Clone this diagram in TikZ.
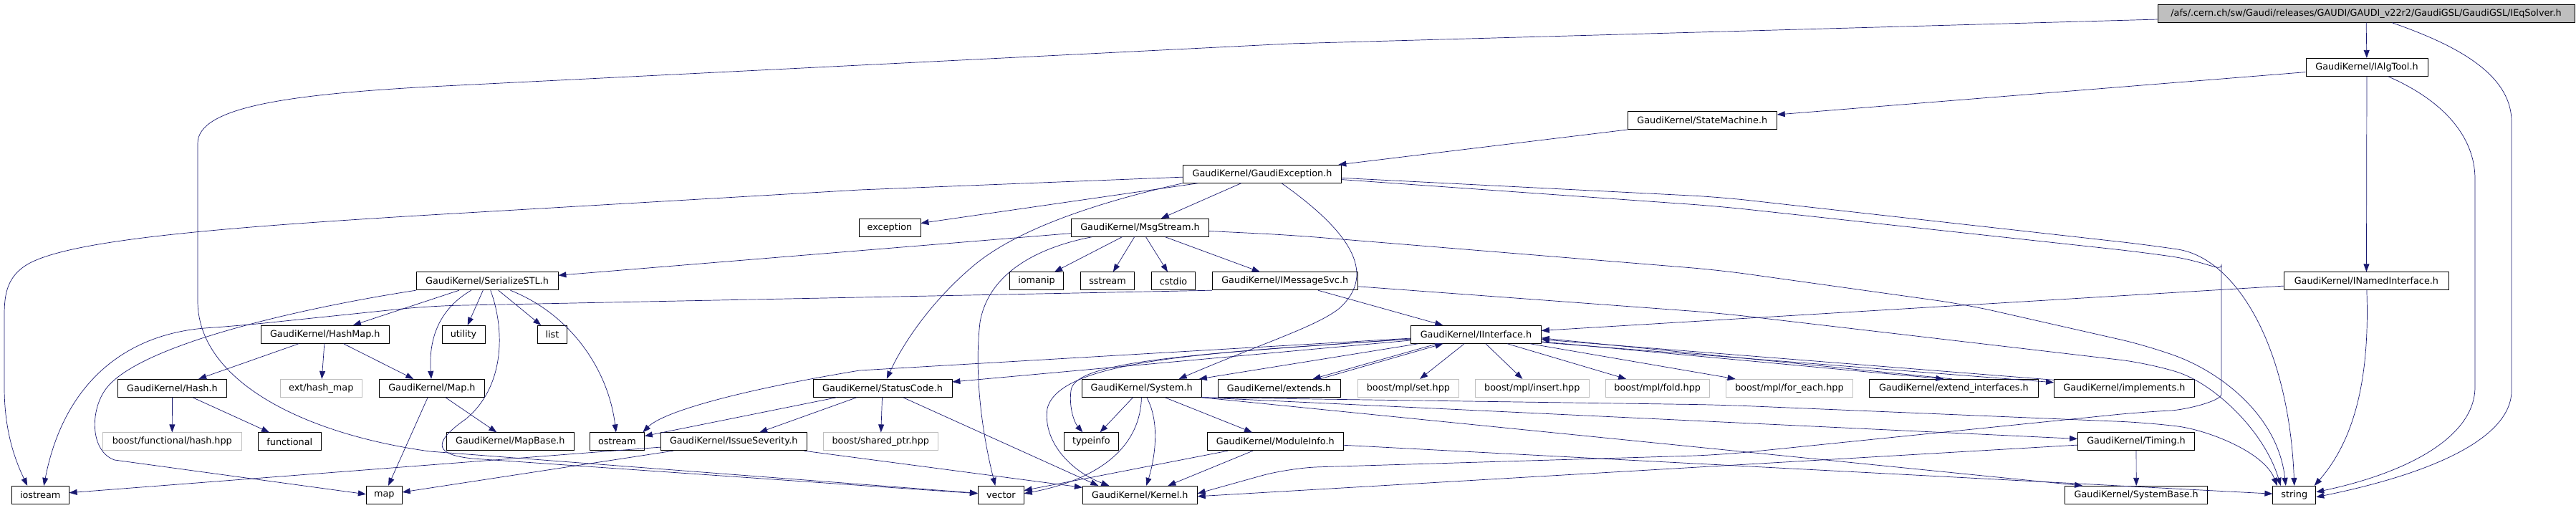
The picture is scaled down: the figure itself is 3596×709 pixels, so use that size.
\documentclass[tikz,border=0pt]{standalone}
\usepackage{fontspec}
\setmainfont{DejaVu Sans}
\usetikzlibrary{arrows.meta}
\definecolor{edgeblue}{RGB}{25,25,112}
\definecolor{boxgrey}{RGB}{191,191,191}

\begin{document}
\begin{tikzpicture}[x=1pt,y=-1pt,
  header/.style={draw=black,line width=0.8pt,inner sep=0pt,minimum height=25pt,font=\fontsize{12.8}{15}\selectfont},
  sysheader/.style={header,draw=boxgrey},
  incl/.style={draw=edgeblue,line width=0.7pt,-{Triangle[length=11pt,width=8pt]}},
  incllong/.style={incl,rounded corners=40pt}]
  \useasboundingbox (0,0) rectangle (3596,709);

  % files, one row after the other
  \node[header,fill=boxgrey,minimum width=582pt,minimum height=24.6pt] (root) at (3303,19) {/afs/.cern.ch/sw/Gaudi/releases/GAUDI/GAUDI\_v22r2/GaudiGSL/GaudiGSL/IEqSolver.h};
  \node[header,minimum width=170pt] (ialgtool) at (3304,93.8) {GaudiKernel/IAlgTool.h};
  \node[header,minimum width=208pt] (statemachine) at (2376.3,168.3) {GaudiKernel/StateMachine.h};
  \node[header,minimum width=221pt] (gaudiexc) at (1762,242.8) {GaudiKernel/GaudiException.h};
  \node[header,minimum width=86pt] (exception) at (1242,317.8) {exception};
  \node[header,minimum width=192pt] (msgstream) at (1591.5,317.8) {GaudiKernel/MsgStream.h};
  \node[header,minimum width=198pt] (serialize) at (680,392.3) {GaudiKernel/SerializeSTL.h};
  \node[header,minimum width=75pt] (iomanip) at (1447,392.3) {iomanip};
  \node[header,minimum width=75pt] (sstream) at (1546,392.3) {sstream};
  \node[header,minimum width=61pt] (cstdio) at (1638,392.3) {cstdio};
  \node[header,minimum width=203pt] (imsgsvc) at (1793.7,392.3) {GaudiKernel/IMessageSvc.h};
  \node[header,minimum width=230pt] (inamed) at (3303.4,392.3) {GaudiKernel/INamedInterface.h};
  \node[header,minimum width=179pt] (hashmap) at (453.8,466.8) {GaudiKernel/HashMap.h};
  \node[header,minimum width=60pt] (utility) at (647,466.8) {utility};
  \node[header,minimum width=41pt] (list) at (771,466.8) {list};
  \node[header,minimum width=182pt] (iinterface) at (2060.4,466.8) {GaudiKernel/IInterface.h};
  \node[header,minimum width=152pt] (hash) at (240.5,541.8) {GaudiKernel/Hash.h};
  \node[sysheader,minimum width=114pt] (exthashmap) at (448.3,541.8) {ext/hash\_map};
  \node[header,minimum width=147pt] (mapH) at (602.9,541.8) {GaudiKernel/Map.h};
  \node[header,minimum width=194pt] (statuscode) at (1232,541.8) {GaudiKernel/StatusCode.h};
  \node[header,minimum width=167pt] (system) at (1593.7,541.8) {GaudiKernel/System.h};
  \node[header,minimum width=171pt] (extends) at (1785.6,541.8) {GaudiKernel/extends.h};
  \node[sysheader,minimum width=141pt] (mplset) at (1965.9,541.8) {boost/mpl/set.hpp};
  \node[sysheader,minimum width=159pt] (mplinsert) at (2138.8,541.8) {boost/mpl/insert.hpp};
  \node[sysheader,minimum width=145pt] (mplfold) at (2313.7,541.8) {boost/mpl/fold.hpp};
  \node[sysheader,minimum width=177pt] (mplforeach) at (2497.8,541.8) {boost/mpl/for\_each.hpp};
  \node[header,minimum width=236pt] (extendif) at (2727.4,541.8) {GaudiKernel/extend\_interfaces.h};
  \node[header,minimum width=196pt] (implements) at (2965.4,541.8) {GaudiKernel/implements.h};
  \node[sysheader,minimum width=194pt] (boosthash) at (240.3,616.3) {boost/functional/hash.hpp};
  \node[header,minimum width=88pt] (functional) at (404.3,616.3) {functional};
  \node[header,minimum width=178pt] (mapbase) at (712.3,616.3) {GaudiKernel/MapBase.h};
  \node[header,minimum width=76pt] (ostream) at (861.4,616.3) {ostream};
  \node[header,minimum width=204pt] (issue) at (1024.2,616.3) {GaudiKernel/IssueSeverity.h};
  \node[sysheader,minimum width=160pt] (sharedptr) at (1229.3,616.3) {boost/shared\_ptr.hpp};
  \node[header,minimum width=76pt] (typeinfo) at (1523.4,616.3) {typeinfo};
  \node[header,minimum width=190pt] (moduleinfo) at (1780.3,616.3) {GaudiKernel/ModuleInfo.h};
  \node[header,minimum width=163pt] (timing) at (2982,616.3) {GaudiKernel/Timing.h};
  \node[header,minimum width=80pt] (iostream) at (56.2,690.8) {iostream};
  \node[header,minimum width=50pt] (map) at (536.3,690.8) {map};
  \node[header,minimum width=64pt] (vector) at (1397.3,690.8) {vector};
  \node[header,minimum width=160pt] (kernel) at (1591.3,690.8) {GaudiKernel/Kernel.h};
  \node[header,minimum width=199pt] (systembase) at (2982.2,690.8) {GaudiKernel/SystemBase.h};
  \node[header,minimum width=60pt] (string) at (3202.8,690.8) {string};

  % IEqSolver.h
  \draw[incl] (root) -- (ialgtool);
  \draw[incl] (root) -- (1800,61) -- (600,121) .. controls (400,132) and (276,150) .. (276,200) -- (276,420) .. controls (276,530) and (420,605) .. (600,630) -- (vector);
  \draw[incl] (root) .. controls (3420,60) and (3506,100) .. (3506,170) -- (3506,545) .. controls (3506,610) and (3400,660) .. ([yshift=-3pt]string.east);

  % IAlgTool.h and StateMachine.h
  \draw[incl] (ialgtool) -- (statemachine);
  \draw[incl] (ialgtool) -- (inamed);
  \draw[incl] (ialgtool) .. controls (3410,140) and (3455,190) .. (3455,250) -- (3455,540) .. controls (3455,610) and (3360,660) .. ([yshift=4pt]string.east);
  \draw[incl] (statemachine) -- (gaudiexc);

  % GaudiException.h
  \draw[incl] (gaudiexc) -- (1200,265) -- (600,300) .. controls (300,318) and (100,335) .. (40,368) .. controls (10,385) and (6,410) .. (6,440) -- (6,540) .. controls (6,600) and (20,640) .. ([xshift=-18pt]iostream.north);
  \draw[incl] (gaudiexc) -- (exception);
  \draw[incl] (gaudiexc) -- (msgstream);
  \draw[incl] (gaudiexc.south west) .. controls (1530,283) and (1420,320) .. (1360,370) .. controls (1300,420) and (1260,480) .. (statuscode);
  \draw[incl] ([xshift=27pt]gaudiexc.south) .. controls (1880,320) and (1925,380) .. (1870,430) .. controls (1840,455) and (1760,480) .. ([xshift=52pt]system.north);
  \draw[incllong] (gaudiexc) -- (2400,275) -- (3000,342) .. controls (3120,360) and (3195,480) .. (string.north);
  \draw[incllong] (gaudiexc) -- (2400,288) -- (2990,352) .. controls (3080,365) and (3101,380) .. (3101,410) -- (3101,510) .. controls (3101,560) and (3050,572) .. (2990,575) -- (2400,635) -- (1800,653) -- ([yshift=2pt]kernel.east);

  % MsgStream.h
  \draw[incl] (msgstream) -- (serialize);
  \foreach \dst in {iomanip,sstream,cstdio,imsgsvc}
    \draw[incl] (msgstream) -- (\dst);
  \draw[incl] (msgstream) .. controls (1450,345) and (1380,380) .. (1368,450) .. controls (1360,520) and (1370,600) .. ([xshift=-8pt]vector.north);
  \draw[incllong] (msgstream) -- (1800,328) -- (2400,377) -- (2744,425) -- (3000,483) .. controls (3100,520) and (3180,580) .. ([xshift=-12pt]string.north);

  % IMessageSvc.h
  \draw[incl] (imsgsvc) -- (iinterface);
  \draw[incllong] (imsgsvc) -- (2400,437) -- (3000,507) .. controls (3090,535) and (3160,600) .. ([xshift=-19pt]string.north);
  \draw[incllong] (imsgsvc.south west) -- (1200,415) -- (600,427) -- (330,455) .. controls (180,465) and (90,530) .. ([xshift=5pt]iostream.north);

  % SerializeSTL.h
  \draw[incl] (serialize) -- (hashmap);
  \draw[incl] (serialize) .. controls (615,430) and (598,470) .. (mapH);
  \draw[incl] (serialize) -- (utility);
  \draw[incl] (serialize) -- (list);
  \draw[incl] (serialize) .. controls (800,440) and (850,520) .. (ostream);
  \draw[incl] (serialize) .. controls (705,460) and (705,540) .. (650,585) .. controls (600,620) and (610,635) .. (660,640) -- ([yshift=2pt]vector.west);
  \draw[incl] (serialize.south west) .. controls (420,430) and (200,480) .. (150,540) .. controls (125,570) and (125,630) .. (160,642) -- ([yshift=1pt]map.west);

  % HashMap.h, Hash.h, Map.h
  \foreach \dst in {hash,exthashmap,mapH}
    \draw[incl] (hashmap) -- (\dst);
  \foreach \dst in {boosthash,functional}
    \draw[incl] (hash) -- (\dst);
  \foreach \dst in {map,mapbase}
    \draw[incl] (mapH) -- (\dst);

  % StatusCode.h, IssueSeverity.h
  \foreach \dst in {ostream,issue,sharedptr}
    \draw[incl] (statuscode) -- (\dst);
  \draw[incl] (statuscode) -- ([xshift=-58pt]kernel.north);
  \foreach \dst in {iostream,map,kernel}
    \draw[incl] (issue) -- (\dst);

  % System.h
  \draw[incl] (system) -- (typeinfo);
  \draw[incl] (system) .. controls (1620,590) and (1612,640) .. ([xshift=9pt]kernel.north);
  \draw[incl] (system) .. controls (1592,620) and (1540,668) .. ([yshift=2pt]vector.east);
  \draw[incl] (system) -- (moduleinfo);
  \draw[incl] (system.south east) -- (timing);
  \draw[incl] (system.south east) -- ([xshift=-75pt]systembase.north);
  \draw[incllong] (system.south east) -- (2400,565) -- (3000,590) .. controls (3080,600) and (3160,630) .. ([xshift=-24pt]string.north);

  % ModuleInfo.h, Timing.h
  \draw[incl] (moduleinfo) -- ([xshift=39pt]kernel.north);
  \draw[incl] (moduleinfo) -- (vector);
  \draw[incl] (moduleinfo) -- (string);
  \draw[incl] (timing) -- (systembase);
  \draw[incl] (timing) -- ([yshift=-2pt]kernel.east);

  % INamedInterface.h
  \draw[incl] (inamed) -- (iinterface);
  \draw[incl] (inamed) .. controls (3308,520) and (3290,610) .. ([xshift=28pt]string.north);

  % IInterface.h
  \draw[incl] (iinterface) -- (statuscode);
  \draw[incl] (iinterface) -- (system);
  \draw[incl] (iinterface) .. controls (1700,492) and (1480,500) .. (1462,570) .. controls (1455,620) and (1500,660) .. ([xshift=-43pt]kernel.north);
  \draw[incl] (iinterface) .. controls (1650,495) and (1500,505) .. (1495,545) .. controls (1492,570) and (1500,590) .. ([xshift=-12pt]typeinfo.north);
  \draw[incl] (iinterface) -- (1200,517) .. controls (1030,545) and (925,575) .. ([xshift=36pt]ostream.north);
  \draw[incl] ([xshift=-54pt]iinterface.south) -- ([xshift=47pt]extends.north);
  \draw[incl] ([xshift=57pt]extends.north) -- ([xshift=-46pt]iinterface.south);
  \foreach \dst in {mplset,mplinsert,mplfold,mplforeach}
    \draw[incl] (iinterface) -- (\dst);
  \draw[incl] ([yshift=-10pt]iinterface.east) -- ([xshift=-14pt]extendif.north);
  \draw[incl] ([xshift=-2pt]extendif.north) -- ([yshift=-5pt]iinterface.east);
  \draw[incl] ([yshift=-11pt]iinterface.east) -- ([yshift=8pt]implements.west);
  \draw[incl] ([yshift=11.5pt]implements.west) -- ([yshift=-7pt]iinterface.east);
\end{tikzpicture}
\end{document}
